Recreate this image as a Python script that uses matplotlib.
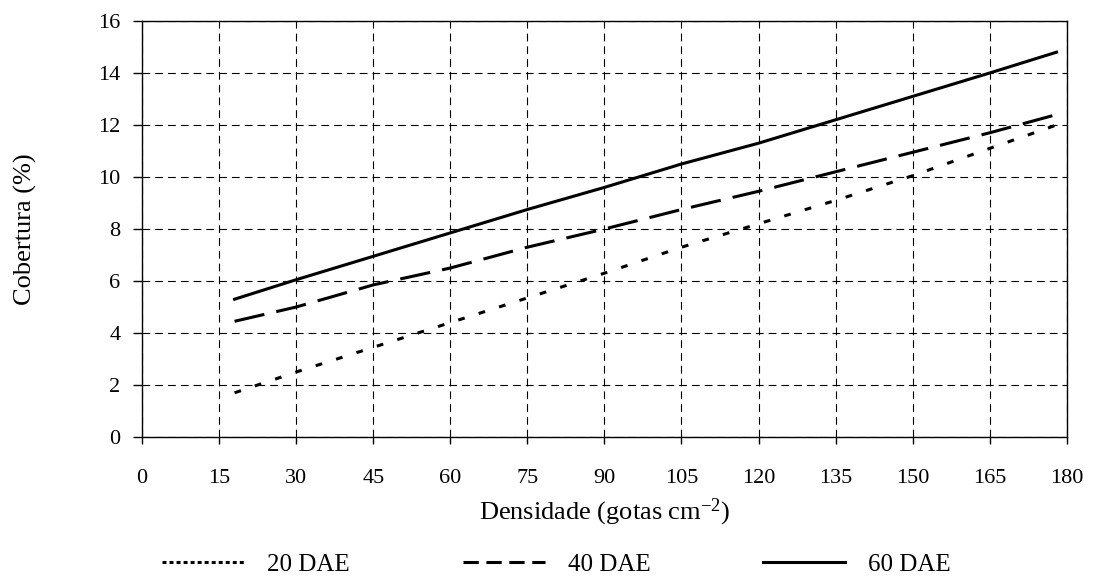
import matplotlib
matplotlib.use("Agg")
import matplotlib.pyplot as plt
from matplotlib.lines import Line2D

plt.rcParams["font.family"] = ["Liberation Serif", "DejaVu Serif"]
plt.rcParams["mathtext.fontset"] = "custom"
plt.rcParams["mathtext.rm"] = "Liberation Serif"
plt.rcParams["mathtext.default"] = "regular"

# droplet density (drops per cm2) and coverage (%) for each sampling date
densidade = [18, 30, 45, 60, 75, 90, 105, 120, 135, 150, 165, 178]
dae20 = [1.7, 2.5, 3.45, 4.4, 5.35, 6.3, 7.3, 8.2, 9.1, 10.05, 11.1, 12.0]
dae40 = [4.45, 5.0, 5.85, 6.5, 7.3, 8.0, 8.75, 9.45, 10.2, 10.95, 11.7, 12.4]
dae60 = [5.3, 6.05, 6.95, 7.85, 8.75, 9.6, 10.5, 11.3, 12.2, 13.1, 14.0, 14.8]
labels = ["20 DAE", "40 DAE", "60 DAE"]

LW = 2.2
STY20 = (0, (2.2, 4.8))
STY40 = (0, (10, 4))

fig = plt.figure(figsize=(10.93, 5.83), dpi=100)
ax = fig.add_axes([0.130, 0.2504, 0.846, 0.7136])

ax.plot(densidade, dae20, color="black", lw=LW, linestyle=STY20)
ax.plot(densidade, dae40, color="black", lw=LW, linestyle=STY40)
ax.plot(densidade, dae60, color="black", lw=LW, linestyle="-")

ax.set_xlim(0, 180)
ax.set_ylim(0, 16)
ax.set_xticks(range(0, 181, 15))
ax.set_yticks(range(0, 17, 2))
ax.grid(True, color="black", lw=0.8, linestyle=(0, (7, 4.5)))
ax.set_axisbelow(True)
ax.tick_params(axis="y", direction="out", length=6.5, width=1, labelsize=16, pad=9)
ax.tick_params(axis="x", direction="out", length=5, width=1, labelsize=16, pad=18)
for sp in ax.spines.values():
    sp.set_linewidth(1.0)

ax.set_xlabel("Densidade (gotas cm$^{-2}$)", fontsize=19, labelpad=6)
ax.set_ylabel("Cobertura (%)", fontsize=19, labelpad=44)

# legend keys drawn with a tighter dot pattern for the 20 DAE series
handles = [
    Line2D([], [], color="black", lw=LW, linestyle=(0, (1.3, 1.0))),
    Line2D([], [], color="black", lw=LW, linestyle=(0, (5, 2.5))),
    Line2D([], [], color="black", lw=LW, linestyle="-"),
]
fig.legend(handles, labels, loc="center", ncol=3, frameon=False, fontsize=18,
           handlelength=3.3, handletextpad=0.9, columnspacing=4.5,
           bbox_to_anchor=(0.509, 0.032))

fig.savefig("out.png", dpi=100)
